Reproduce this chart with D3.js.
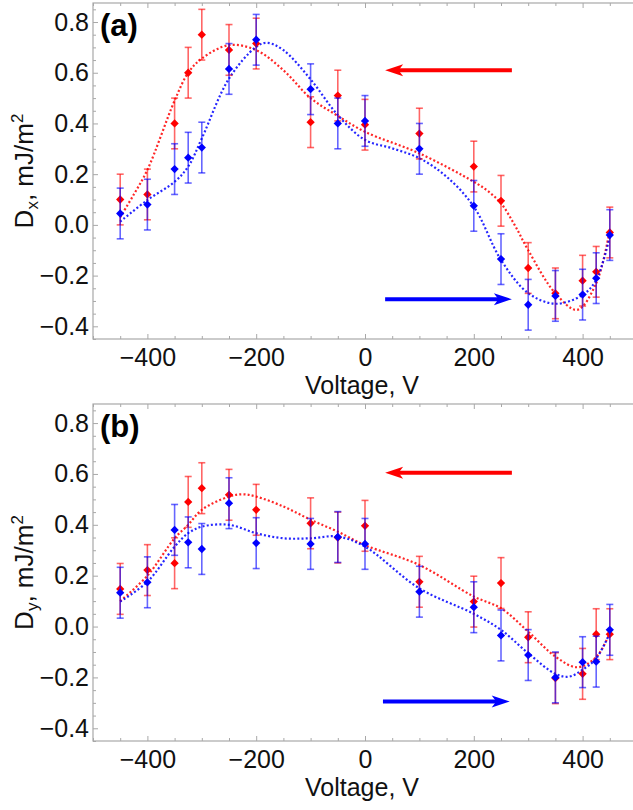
<!DOCTYPE html>
<html>
<head>
<meta charset="utf-8">
<script src="https://cdn.jsdelivr.net/npm/d3@7"></script>
<style>
  body { margin: 0; background: #fff; }
  svg { display: block; font-family: "Liberation Sans", Arial, sans-serif; }
</style>
</head>
<body>
<svg id="chart" width="633" height="810"></svg>
<script>
// measured voltages (V)
const voltage = [-450, -400, -350, -325, -300, -250, -200, -100, -50, 0, 100, 200, 250, 300, 350, 400, 425, 450];

// panel (a) Dx, mJ/m^2
const dxRed = [0.10, 0.12, 0.40, 0.60, 0.75, 0.69, 0.715, 0.405, 0.51, 0.395, 0.36, 0.23, 0.095, -0.17, -0.27, -0.22, -0.185, -0.03];
const dxBlue = [0.045, 0.08, 0.22, 0.265, 0.305, 0.615, 0.73, 0.535, 0.40, 0.41, 0.30, 0.075, -0.135, -0.315, -0.28, -0.275, -0.21, -0.04];
const dxRedErr = [0.1, 0.1, 0.1, 0.1, 0.1, 0.1, 0.1, 0.1, 0.1, 0.1, 0.1, 0.1, 0.1, 0.1, 0.1, 0.1, 0.1, 0.1];
const dxBlueErr = [0.1, 0.1, 0.1, 0.1, 0.1, 0.1, 0.1, 0.1, 0.1, 0.1, 0.1, 0.1, 0.1, 0.1, 0.1, 0.1, 0.1, 0.1];

// panel (b) Dy, mJ/m^2
const dyRed = [0.148, 0.222, 0.249, 0.49, 0.544, 0.518, 0.459, 0.406, 0.35, 0.396, 0.176, 0.098, 0.171, -0.042, -0.203, -0.186, -0.03, -0.03];
const dyBlue = [0.133, 0.174, 0.38, 0.331, 0.305, 0.485, 0.328, 0.325, 0.352, 0.325, 0.137, 0.076, -0.035, -0.112, -0.2, -0.14, -0.138, -0.013];
const dyRedErr = [0.1, 0.1, 0.1, 0.1, 0.1, 0.1, 0.1, 0.1, 0.1, 0.1, 0.1, 0.1, 0.1, 0.1, 0.1, 0.1, 0.1, 0.1];
const dyBlueErr = [0.1, 0.1, 0.1, 0.1, 0.1, 0.1, 0.1, 0.1, 0.1, 0.1, 0.1, 0.1, 0.1, 0.1, 0.1, 0.1, 0.1, 0.1];

// fitted (dotted) curves
const fitDxRedV = [-450, -425, -400, -350, -325, -300, -250, -200, -150, -100, -50, 0, 100, 200, 225, 250, 275, 300, 350, 390, 425, 450];
const fitDxRed = [0.03, 0.12, 0.217, 0.49, 0.6, 0.656, 0.709, 0.689, 0.61, 0.5, 0.43, 0.367, 0.282, 0.17, 0.135, 0.085, 0.0, -0.1, -0.27, -0.335, -0.23, -0.02];
const fitDxBlueV = [-450, -400, -350, -325, -300, -250, -200, -180, -150, -100, -50, 0, 50, 100, 150, 200, 250, 300, 350, 400, 425, 450];
const fitDxBlue = [0.013, 0.098, 0.17, 0.23, 0.341, 0.577, 0.702, 0.718, 0.689, 0.574, 0.433, 0.335, 0.302, 0.263, 0.19, 0.072, -0.138, -0.269, -0.311, -0.276, -0.217, -0.046];
const fitDyRedV = [-450, -400, -350, -325, -300, -250, -225, -200, -150, -100, -50, 0, 100, 200, 250, 300, 350, 390, 425, 450];
const fitDyRed = [0.10, 0.2, 0.347, 0.4, 0.459, 0.511, 0.52, 0.511, 0.472, 0.42, 0.373, 0.32, 0.242, 0.118, 0.072, -0.02, -0.118, -0.16, -0.12, -0.026];
const fitDyBlueV = [-450, -400, -350, -325, -300, -250, -200, -150, -100, -50, 0, 100, 200, 250, 300, 350, 375, 400, 425, 450];
const fitDyBlue = [0.098, 0.176, 0.314, 0.367, 0.393, 0.4, 0.367, 0.347, 0.347, 0.354, 0.314, 0.15, 0.05, -0.013, -0.105, -0.186, -0.197, -0.17, -0.125, -0.026];

// sweep direction arrows: [from V, to V, value, colour]
const arrowsA = [[270, 37, 0.61, "red"], [37, 270, -0.293, "blue"]];
const arrowsB = [[270, 37, 0.605, "red"], [33, 266, -0.295, "blue"]];

const xTicks = [-400, -200, 0, 200, 400];
const yTicks = [-0.4, -0.2, 0.0, 0.2, 0.4, 0.6, 0.8];

const colors = { red: "#ff0000", blue: "#0000ff" };
const errColors = { red: "rgba(255,0,0,0.6)", blue: "rgba(0,0,255,0.6)" };

const svg = d3.select("#chart");
const frameColor = "#a8a8a8";

function draw_panel(top, bottom, label, yName, series, fits, arrows) {
  const left = 93, right = 637;
  const x = d3.scaleLinear().domain([-500, 500]).range([left, right]);
  const y = d3.scaleLinear().domain([-0.45, 0.875]).range([bottom, top]);
  const g = svg.append("g");

  // ticks (inward) on all four sides
  const minorX = d3.range(-500, 501, 50).filter(v => !xTicks.includes(v));
  const minorY = d3.range(-0.45, 0.876, 0.05).filter(v => !yTicks.some(t => Math.abs(t - v) < 1e-6));
  const addAxis = (axis, tr) => {
    const a = g.append("g").attr("transform", tr).call(axis);
    a.select(".domain").remove();
    a.selectAll("line").attr("stroke", frameColor);
    return a;
  };
  const bx = addAxis(d3.axisBottom(x).tickValues(xTicks).tickSizeInner(-5).tickSizeOuter(0).tickPadding(9)
    .tickFormat(d3.format("d")), `translate(0,${bottom})`);
  addAxis(d3.axisBottom(x).tickValues(minorX).tickSize(-3).tickFormat(""), `translate(0,${bottom})`);
  addAxis(d3.axisTop(x).tickValues(xTicks).tickSize(-5).tickFormat(""), `translate(0,${top})`);
  addAxis(d3.axisTop(x).tickValues(minorX).tickSize(-3).tickFormat(""), `translate(0,${top})`);
  const ly = addAxis(d3.axisLeft(y).tickValues(yTicks).tickSizeInner(-5).tickSizeOuter(0).tickPadding(4)
    .tickFormat(d3.format(".1f")), `translate(${left},0)`);
  addAxis(d3.axisLeft(y).tickValues(minorY).tickSize(-3).tickFormat(""), `translate(${left},0)`);
  [bx, ly].forEach(a => a.selectAll("text").attr("font-size", 25).attr("fill", "#111")
    .attr("font-family", "Liberation Sans, Arial, sans-serif"));

  g.append("rect")
    .attr("x", left).attr("y", top)
    .attr("width", right - left).attr("height", bottom - top)
    .attr("fill", "none").attr("stroke", frameColor).attr("stroke-width", 1.2);

  // fitted curves
  const line = d3.line().x(d => x(d[0])).y(d => y(d[1])).curve(d3.curveCatmullRom.alpha(0.5));
  fits.forEach(f => {
    g.append("path")
      .datum(f.v.map((v, i) => [v, f.d[i]]))
      .attr("d", line)
      .attr("fill", "none")
      .attr("stroke", colors[f.color])
      .attr("stroke-opacity", 0.85)
      .attr("stroke-width", 2.2)
      .attr("stroke-dasharray", "2,2.2");
  });

  // data with error bars
  series.forEach(s => {
    const pts = voltage.map((v, i) => ({ v: v, d: s.d[i], e: s.e[i] }));
    const eg = g.append("g").attr("stroke", errColors[s.color]).attr("stroke-width", 1.6);
    eg.selectAll(".bar").data(pts).join("line")
      .attr("x1", d => x(d.v)).attr("x2", d => x(d.v))
      .attr("y1", d => y(d.d - d.e)).attr("y2", d => y(d.d + d.e));
    eg.selectAll(".capT").data(pts).join("line")
      .attr("x1", d => x(d.v) - 3.5).attr("x2", d => x(d.v) + 3.5)
      .attr("y1", d => y(d.d + d.e)).attr("y2", d => y(d.d + d.e));
    eg.selectAll(".capB").data(pts).join("line")
      .attr("x1", d => x(d.v) - 3.5).attr("x2", d => x(d.v) + 3.5)
      .attr("y1", d => y(d.d - d.e)).attr("y2", d => y(d.d - d.e));
    g.append("g").selectAll("path").data(pts).join("path")
      .attr("d", d3.symbol(d3.symbolDiamond2, 44))
      .attr("transform", d => `translate(${x(d.v)},${y(d.d)})`)
      .attr("fill", colors[s.color]);
  });

  // arrows
  arrows.forEach(a => {
    const x1 = x(a[0]), x2 = x(a[1]), yy = y(a[2]);
    const dir = Math.sign(x2 - x1);
    const head = 18;
    g.append("line")
      .attr("x1", x1).attr("x2", x2 - dir * head * 0.7)
      .attr("y1", yy).attr("y2", yy)
      .attr("stroke", colors[a[3]]).attr("stroke-width", 4);
    g.append("path")
      .attr("d", `M${x2},${yy} L${x2 - dir * head},${yy - 6} L${x2 - dir * head * 0.75},${yy} L${x2 - dir * head},${yy + 6} Z`)
      .attr("fill", colors[a[3]]);
  });

  // panel label
  g.append("text")
    .attr("x", left + 7).attr("y", top + 33)
    .attr("font-size", 31).attr("font-weight", "bold")
    .text(label);

  // axis titles
  const yt = g.append("text")
    .attr("transform", `translate(33,${(top + bottom) / 2}) rotate(-90)`)
    .attr("text-anchor", "middle")
    .attr("font-size", 26).attr("fill", "#111");
  yt.append("tspan").text("D");
  yt.append("tspan").attr("font-size", 17).attr("dy", 5).text(yName);
  yt.append("tspan").attr("dy", -5).text(", mJ/m");
  yt.append("tspan").attr("font-size", 17).attr("dy", -10).text("2");

  g.append("text")
    .attr("x", (left + right) / 2 - 3).attr("y", bottom + 55)
    .attr("text-anchor", "middle")
    .attr("font-size", 25).attr("fill", "#111")
    .text("Voltage, V");
}

draw_panel(3, 339, "(a)", "x",
  [{ d: dxRed, e: dxRedErr, color: "red" }, { d: dxBlue, e: dxBlueErr, color: "blue" }],
  [{ v: fitDxRedV, d: fitDxRed, color: "red" }, { v: fitDxBlueV, d: fitDxBlue, color: "blue" }],
  arrowsA);

draw_panel(404, 741, "(b)", "y",
  [{ d: dyRed, e: dyRedErr, color: "red" }, { d: dyBlue, e: dyBlueErr, color: "blue" }],
  [{ v: fitDyRedV, d: fitDyRed, color: "red" }, { v: fitDyBlueV, d: fitDyBlue, color: "blue" }],
  arrowsB);
</script>
</body>
</html>
